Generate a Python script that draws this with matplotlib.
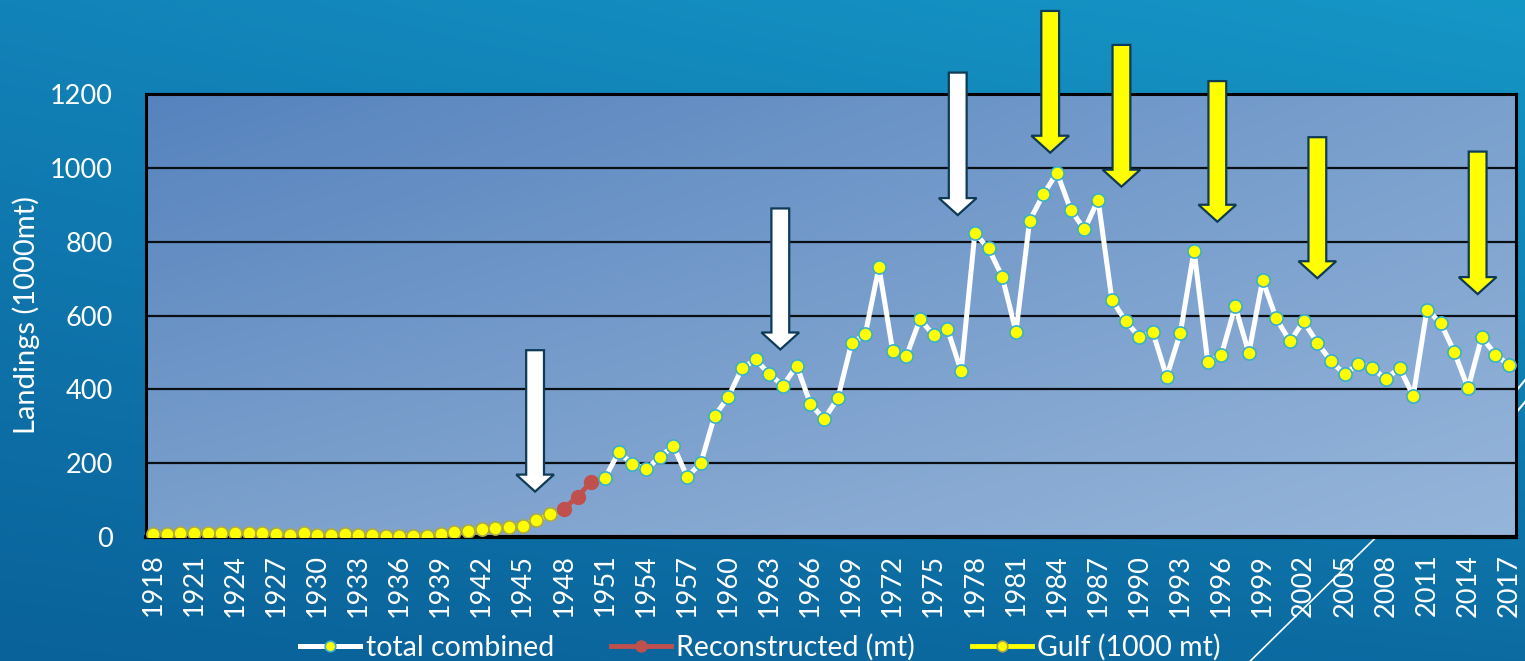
import numpy as np
import matplotlib
matplotlib.use('Agg')
import matplotlib.pyplot as plt
from matplotlib.patches import FancyArrow
from matplotlib.lines import Line2D
from matplotlib.colors import to_rgb

plt.rcParams['font.family'] = ['Lato', 'DejaVu Sans']

# Data
# -------------------------
gulf_years = list(range(1918, 1948))
gulf = [8, 8, 10, 10, 12, 10, 10, 10, 10, 8, 5, 10, 5, 5, 7, 5, 5, 4, 4, 4,
        2, 8, 13, 17, 21, 25, 28, 31, 46, 61]

recon_years = [1948, 1949, 1950]
recon = [77, 109, 150]

total_years = list(range(1951, 2018))
total = [160, 229, 199, 183, 216, 247, 163, 200, 328, 379,
         457, 481, 441, 410, 464, 360, 319, 376, 525, 549,
         731, 505, 490, 590, 546, 563, 450, 823, 782, 705,
         556, 857, 928, 987, 886, 833, 913, 643, 585, 542,
         554, 434, 553, 776, 474, 494, 625, 498, 696, 592,
         530, 584, 526, 476, 441, 469, 459, 427, 459, 382,
         616, 580, 501, 403, 542, 494, 465]

tick_years = list(range(1918, 2018, 3))

# Arrow annotations: x position (year), top and tip (landings)
arrow_years = [1945.9, 1963.8, 1976.75, 1983.5, 1988.7, 1995.7, 2003.0, 2014.7]
arrow_top = [506, 890, 1258, 1425, 1333, 1235, 1083, 1044]
arrow_tip = [123, 508, 872, 1041, 949, 854, 701, 658]
arrow_colors = ['white', 'white', 'white',
                '#ffff00', '#ffff00', '#ffff00', '#ffff00', '#ffff00']


def bilinear(tl, tr, bl, br, h=200, w=400):
    tl, tr, bl, br = [np.array(to_rgb(c)) for c in (tl, tr, bl, br)]
    yy = np.linspace(0, 1, h)[:, None, None]
    xx = np.linspace(0, 1, w)[None, :, None]
    top = tl * (1 - xx) + tr * xx
    bot = bl * (1 - xx) + br * xx
    return top * (1 - yy) + bot * yy


W, H = 1525, 661
fig = plt.figure(figsize=(W / 100, H / 100), dpi=100)

# Slide background
bg = fig.add_axes([0, 0, 1, 1], zorder=-1)
bg.imshow(bilinear('#1283b8', '#1597c6', '#0a629a', '#0c6ca2'),
          extent=[0, W, H, 0], aspect='auto', interpolation='bilinear')
bg.add_line(Line2D([1230, 1420], [681, 494], color='white', lw=1.2))
bg.add_line(Line2D([1480, 1530], [435, 374], color='white', lw=1.5))
bg.add_line(Line2D([1480, 1530], [456, 396], color='white', lw=1.5))
bg.set_xlim(0, W)
bg.set_ylim(H, 0)
bg.axis('off')

# Chart
ax = fig.add_axes([146 / W, (H - 537) / H, 1370 / W, 443 / H])
ax.patch.set_visible(False)
ax.set_xlim(1917.5, 2017.5)
ax.set_ylim(0, 1200)
ax.imshow(bilinear('#5683be', '#7aa0cd', '#7ba0cc', '#96b5da'),
          extent=[1917.5, 2017.5, 0, 1200], aspect='auto',
          interpolation='bilinear', zorder=0)

ax.plot(gulf_years, gulf, color='#ffff00', lw=3.5, marker='o', ms=9.5,
        mfc='#ffff00', mec='#a9a84a', mew=1.2, label='Gulf (1000 mt)', zorder=3)
ax.plot(recon_years, recon, color='#c0504d', lw=3.5, marker='o', ms=10,
        mfc='#c0504d', mec='#c0504d', label='Reconstructed (mt)', zorder=3)
ax.plot(total_years, total, color='white', lw=3.6, marker='o', ms=9.5,
        mfc='#ffff00', mec='#3ab0c8', mew=1.2, label='total combined', zorder=4)

for x, t, b, c in zip(arrow_years, arrow_top, arrow_tip, arrow_colors):
    ax.add_patch(FancyArrow(x, t, 0, b - t, width=1.3, head_width=2.75,
                            head_length=46, length_includes_head=True,
                            fc=c, ec='#0e3a55', lw=1.6, clip_on=False, zorder=6))

ax.set_yticks(range(0, 1201, 200))
ax.set_xticks(tick_years)
ax.set_xticklabels([str(y) for y in tick_years], rotation=90)
ax.yaxis.grid(True, color='#0a0f14', lw=1.6)
ax.tick_params(length=0, colors='white', labelsize=19.5)
ax.tick_params(axis='x', pad=12)
ax.tick_params(axis='y', pad=24)
for s in ax.spines.values():
    s.set_color('black')
    s.set_linewidth(2.2)
ax.spines['bottom'].set_linewidth(3)

ax.set_ylabel('Landings (1000mt)', color='white', fontsize=21)
ax.yaxis.set_label_coords(-106 / 1370, 0.5)

h, l = ax.get_legend_handles_labels()
order = [2, 1, 0]
fig.legend([h[i] for i in order], [l[i] for i in order], loc='center',
           bbox_to_anchor=(0.4987, 0.02), ncol=3, frameon=False,
           labelcolor='white', fontsize=20.5, handlelength=2.1,
           handletextpad=0.2, columnspacing=2.0, markerscale=0.8)

fig.savefig('out.png', dpi=100)
